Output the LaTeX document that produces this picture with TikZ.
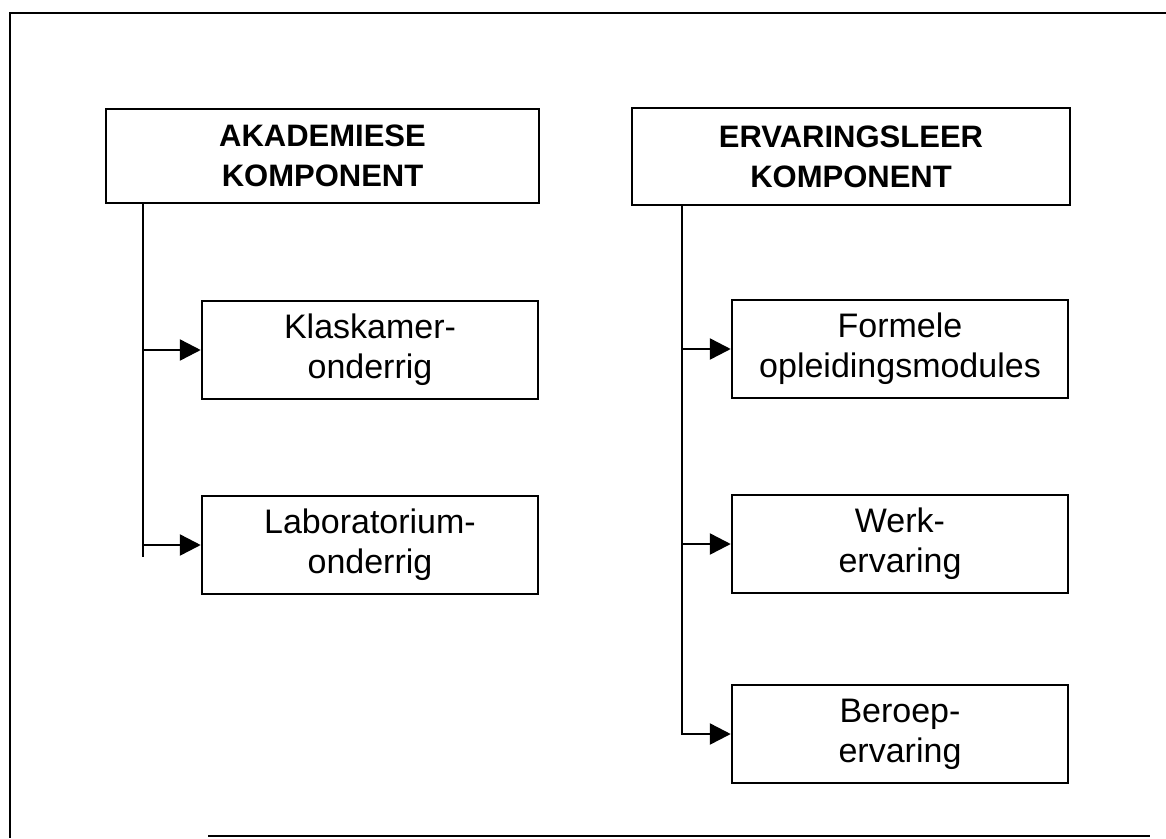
\documentclass[tikz,border=0pt]{standalone}
\usepackage{fontspec}
\setmainfont{Liberation Sans}
\usetikzlibrary{arrows.meta}
\begin{document}
\begin{tikzpicture}[x=1pt,y=-1pt,
  line width=2.5pt, line join=miter,
  headbox/.style={draw, rectangle, inner sep=0pt, align=center,
    font=\fontsize{31}{40}\selectfont\bfseries},
  subbox/.style={draw, rectangle, inner sep=0pt, align=center,
    minimum width=336pt, minimum height=98pt,
    font=\fontsize{34}{40}\selectfont},
  arr/.style={-{Triangle[length=21pt,width=21pt]}}]
\useasboundingbox (0,0) rectangle (1166,838);

% page frame
\draw (1166,13) -- (10,13) -- (10,838);
\draw (208,836) -- (1150,836);

% main components
\node[headbox, minimum width=433pt, minimum height=94pt] (akad) at (322.5,156)
  {AKADEMIESE\\KOMPONENT};
\node[headbox, minimum width=438pt, minimum height=97pt] (erv) at (851,156.5)
  {ERVARINGSLEER\\KOMPONENT};

% academic parts
\node[subbox] (klas) at (370,350) {Klaskamer-\\onderrig};
\node[subbox] (lab) at (370,545) {Laboratorium-\\onderrig};

% experiential parts
\node[subbox] (form) at (900,349) {Formele\\opleidingsmodules};
\node[subbox] (werk) at (900,544) {Werk-\\ervaring};
\node[subbox] (ber) at (900,734) {Beroep-\\ervaring};

% trunks
\coordinate (lt) at (143,557);
\coordinate (rt) at (682,734);
\draw (lt |- akad.south) -- (lt);
\draw[arr] (lt |- klas.west) -- (klas.west);
\draw[arr] (lt |- lab.west) -- (lab.west);

\draw[arr] (rt |- erv.south) -- (rt) -- (ber.west);
\draw[arr] (rt |- form.west) -- (form.west);
\draw[arr] (rt |- werk.west) -- (werk.west);
\end{tikzpicture}
\end{document}
